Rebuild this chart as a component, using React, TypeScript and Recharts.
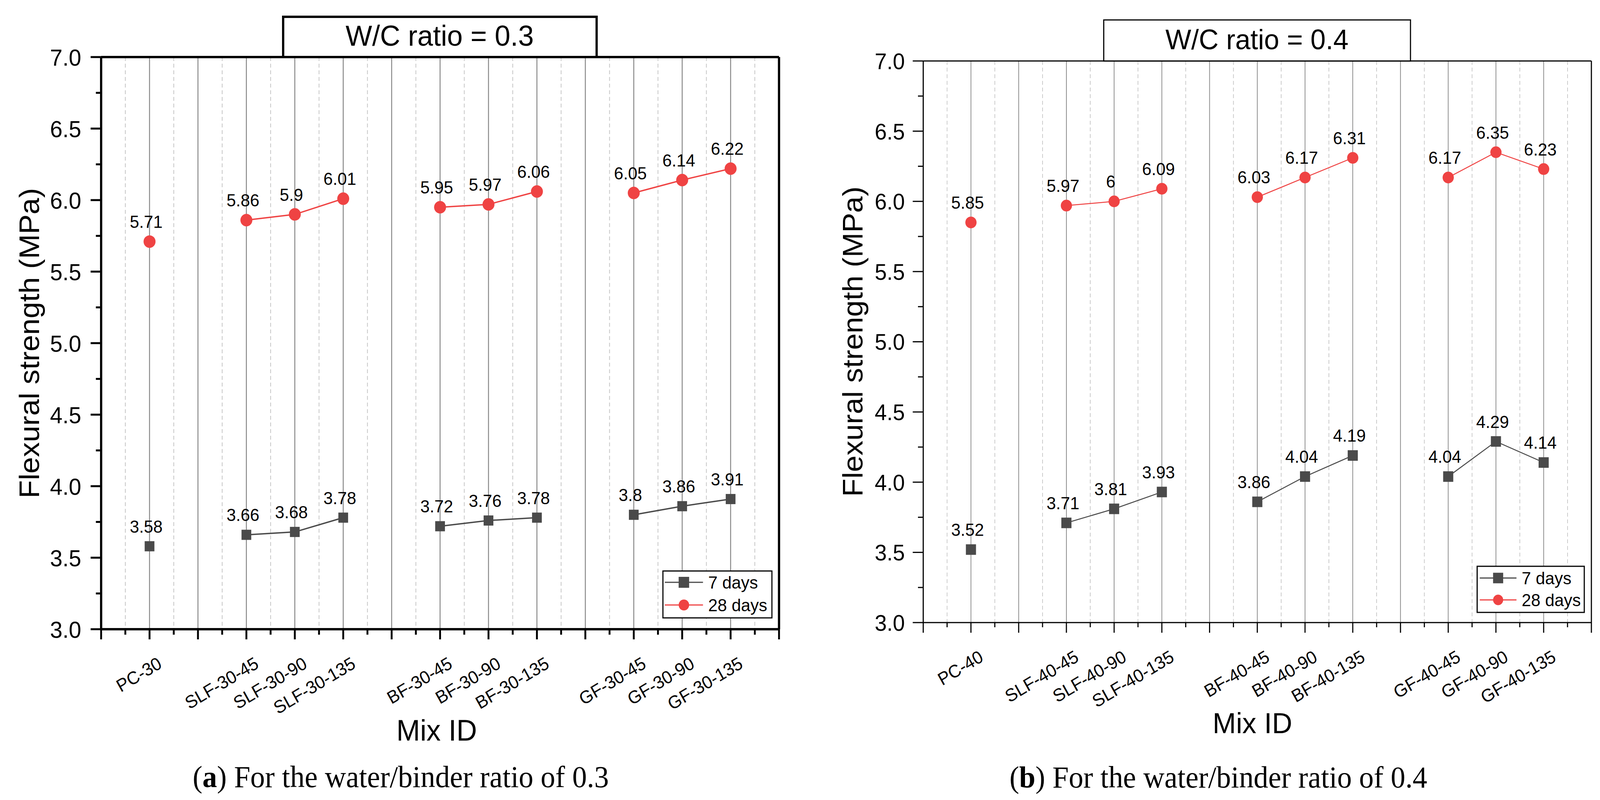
import React from "react";
import { LineChart, Line, XAxis, YAxis, CartesianGrid, LabelList, ReferenceLine } from "recharts";

// mix IDs, blank entries are the empty slots between groups
const categoriesA = ["PC-30", "", "SLF-30-45", "SLF-30-90", "SLF-30-135", "", "BF-30-45", "BF-30-90", "BF-30-135", "", "GF-30-45", "GF-30-90", "GF-30-135"];
const days7A = [3.58, null, 3.66, 3.68, 3.78, null, 3.72, 3.76, 3.78, null, 3.8, 3.86, 3.91];
const days28A = [5.71, null, 5.86, 5.9, 6.01, null, 5.95, 5.97, 6.06, null, 6.05, 6.14, 6.22];

const categoriesB = ["PC-40", "", "SLF-40-45", "SLF-40-90", "SLF-40-135", "", "BF-40-45", "BF-40-90", "BF-40-135", "", "GF-40-45", "GF-40-90", "GF-40-135"];
const days7B = [3.52, null, 3.71, 3.81, 3.93, null, 3.86, 4.04, 4.19, null, 4.04, 4.29, 4.14];
const days28B = [5.85, null, 5.97, 6, 6.09, null, 6.03, 6.17, 6.31, null, 6.17, 6.35, 6.23];

const yTicks = [3, 3.25, 3.5, 3.75, 4, 4.25, 4.5, 4.75, 5, 5.25, 5.5, 5.75, 6, 6.25, 6.5, 6.75, 7];
const xMax = categoriesA.length + 1;
const xTicks = Array.from({ length: xMax * 2 + 1 }, (_, i) => i / 2);

const W = 4272;
const H = 2047;
const FONT = "'Liberation Sans', Arial, sans-serif";
const SERIF = "'Liberation Serif', 'Times New Roman', serif";
const GRAY = "#4a4a4a";
const RED = "#ef4343";

const panelA = {
    left: 0, yAxisW: 270, right: 56, top: 146, xAxisH: 200, bottom: 237,
    axisW: 6, tickW: 5, majorLen: 28, minorLen: 14, xMajorLen: 26, xMinorLen: 14,
    gridW: 2.6, dashW: 2, lineW: 3.5, sq: 26, r: 16,
    yFont: 60, yGap: 53, catFont: 46, valFont: 45,
};
const panelB = {
    left: 2136, yAxisW: 329, right: 23, top: 156, xAxisH: 200, bottom: 254,
    axisW: 3, tickW: 3, majorLen: 28, minorLen: 14, xMajorLen: 26, xMinorLen: 12,
    gridW: 2, dashW: 1.8, lineW: 2.5, sq: 27, r: 15,
    yFont: 58, yGap: 49, catFont: 46, valFont: 45,
};

function YTick(props: any) {
    const { x, y, payload, panel } = props;
    const v = payload.value;
    const major = Math.abs(v * 2 - Math.round(v * 2)) < 1e-6;
    const len = major ? panel.majorLen : panel.minorLen;
    return (
        <g>
            <line x1={x - len} x2={x} y1={y} y2={y} stroke="#000" strokeWidth={panel.tickW} />
            {major && (
                <text x={x - panel.yGap} y={y} dy="0.36em" textAnchor="end" fontSize={panel.yFont} fontFamily={FONT} fill="#000">
                    {v.toFixed(1)}
                </text>
            )}
        </g>
    );
}

function XTick(props: any) {
    const { x, y, payload, panel, categories } = props;
    const v = payload.value;
    const major = Number.isInteger(v);
    const len = major ? panel.xMajorLen : panel.xMinorLen;
    const name = major && v >= 1 ? categories[v - 1] : "";
    const tx = x + 36;
    const ty = y + 97;
    return (
        <g>
            <line x1={x} x2={x} y1={y} y2={y + len} stroke="#000" strokeWidth={panel.tickW} />
            {name && (
                <text x={tx} y={ty} textAnchor="end" transform={`rotate(-30, ${tx}, ${ty})`} fontSize={panel.catFont} fontFamily={FONT} fill="#000">
                    {name}
                </text>
            )}
        </g>
    );
}

const gridLine = (panel: any) => (p: any) => {
    if (p.index === 0 || p.index >= xMax * 2) return <g key={p.key} />;
    const major = p.index % 2 === 0;
    return (
        <line
            key={p.key}
            x1={p.x1}
            x2={p.x2}
            y1={p.y1}
            y2={p.y2}
            stroke={major ? "#8a8a8a" : "#c4c4c4"}
            strokeWidth={major ? panel.gridW : panel.dashW}
            strokeDasharray={major ? undefined : "10 7"}
        />
    );
};

const squareDot = (panel: any) => (p: any) => {
    const { cx, cy, index, value } = p;
    if (value == null || cy == null || Number.isNaN(cy)) return <g key={`s-${index}`} />;
    return <rect key={`s-${index}`} x={cx - panel.sq / 2} y={cy - panel.sq / 2} width={panel.sq} height={panel.sq} fill={GRAY} />;
};

const circleDot = (panel: any) => (p: any) => {
    const { cx, cy, index, value } = p;
    if (value == null || cy == null || Number.isNaN(cy)) return <g key={`c-${index}`} />;
    return <circle key={`c-${index}`} cx={cx} cy={cy} r={panel.r} fill={RED} />;
};

const valueLabel = (panel: any) => (p: any) => {
    const { value, index } = p;
    if (value === null || value === undefined) return null;
    const vb = p.viewBox || {};
    const x = p.x ?? vb.x;
    const y = p.y ?? vb.y;
    if (x == null || y == null) return null;
    return (
        <text key={`v-${index}`} x={x - 9} y={y - 35} textAnchor="middle" fontSize={panel.valFont} fontFamily={FONT} fill="#000">
            {value}
        </text>
    );
};

function Panel({ panel, categories, d7, d28 }: any) {
    const data = categories.map((c: string, i: number) => ({ x: i + 1, name: c, d7: d7[i], d28: d28[i] }));
    const axisLine = { stroke: "#000", strokeWidth: panel.axisW };
    return (
        <div style={{ position: "absolute", left: panel.left, top: 0 }}>
            <LineChart
                width={2136}
                height={H}
                data={data}
                margin={{ top: panel.top, right: panel.right, bottom: panel.bottom, left: 0 }}
            >
                <CartesianGrid horizontal={false} vertical={gridLine(panel)} />
                <XAxis
                    type="number"
                    dataKey="x"
                    domain={[0, xMax]}
                    ticks={xTicks}
                    interval={0}
                    allowDataOverflow
                    height={panel.xAxisH}
                    tickSize={0}
                    tickMargin={0}
                    tickLine={false}
                    axisLine={axisLine}
                    tick={<XTick panel={panel} categories={categories} />}
                />
                <YAxis
                    type="number"
                    domain={[3, 7]}
                    ticks={yTicks}
                    interval={0}
                    allowDataOverflow
                    width={panel.yAxisW}
                    tickSize={0}
                    tickMargin={0}
                    tickLine={false}
                    axisLine={axisLine}
                    tick={<YTick panel={panel} />}
                />
                <ReferenceLine y={7} stroke="#000" strokeWidth={panel.axisW} />
                <ReferenceLine x={xMax} stroke="#000" strokeWidth={panel.axisW} />
                <Line
                    type="linear"
                    dataKey="d7"
                    name="7 days"
                    stroke={GRAY}
                    strokeWidth={panel.lineW}
                    dot={squareDot(panel)}
                    activeDot={false}
                    connectNulls={false}
                    isAnimationActive={false}
                >
                    <LabelList dataKey="d7" content={valueLabel(panel)} />
                </Line>
                <Line
                    type="linear"
                    dataKey="d28"
                    name="28 days"
                    stroke={RED}
                    strokeWidth={panel.lineW}
                    dot={circleDot(panel)}
                    activeDot={false}
                    connectNulls={false}
                    isAnimationActive={false}
                >
                    <LabelList dataKey="d28" content={valueLabel(panel)} />
                </Line>
            </LineChart>
        </div>
    );
}

function LegendBox({ x, y, w, h, row1, row2, lineX1, lineX2, textX, border, size }: any) {
    const mid = (lineX1 + lineX2) / 2;
    return (
        <g>
            <rect x={x} y={y} width={w} height={h} fill="#fff" stroke="#000" strokeWidth={border} />
            <line x1={lineX1} x2={lineX2} y1={row1} y2={row1} stroke={GRAY} strokeWidth={3} />
            <rect x={mid - size / 2} y={row1 - size / 2} width={size} height={size} fill={GRAY} />
            <text x={textX} y={row1 + 16} fontSize={45} fontFamily={FONT}>7 days</text>
            <line x1={lineX1} x2={lineX2} y1={row2} y2={row2} stroke={RED} strokeWidth={3} />
            <circle cx={mid} cy={row2} r={size / 2} fill={RED} />
            <text x={textX} y={row2 + 16} fontSize={45} fontFamily={FONT}>28 days</text>
        </g>
    );
}

function Overlay() {
    return (
        <svg width={W} height={H} style={{ position: "absolute", left: 0, top: 0 }}>
            {/* panel titles */}
            <rect x={756} y={43} width={837} height={103} fill="#fff" stroke="#000" strokeWidth={6} />
            <text x={1174} y={117} textAnchor="middle" fontSize={75} fontFamily={FONT}>W/C ratio = 0.3</text>
            <rect x={2947} y={51} width={819} height={105} fill="#fff" stroke="#000" strokeWidth={3} />
            <text x={3356} y={126} textAnchor="middle" fontSize={73} fontFamily={FONT}>W/C ratio = 0.4</text>

            {/* axis titles */}
            <text transform="translate(104, 878) rotate(-90)" textAnchor="middle" fontSize={76} fontFamily={FONT}>Flexural strength (MPa)</text>
            <text transform="translate(2303, 874) rotate(-90)" textAnchor="middle" fontSize={76} fontFamily={FONT}>Flexural strength (MPa)</text>
            <text x={1166} y={1895} textAnchor="middle" fontSize={76} fontFamily={FONT}>Mix ID</text>
            <text x={3344} y={1876} textAnchor="middle" fontSize={75} fontFamily={FONT}>Mix ID</text>

            <LegendBox x={1770} y={1461} w={291} h={120} row1={1490} row2={1548} lineX1={1775} lineX2={1877} textX={1891} border={3} size={28} />
            <LegendBox x={3944} y={1449} w={286} h={118} row1={1479} row2={1535} lineX1={3951} lineX2={4049} textX={4063} border={3} size={27} />

            {/* captions */}
            <text x={1070} y={2014} textAnchor="middle" fontSize={78} fontFamily={SERIF}>
                (<tspan fontWeight="bold">a</tspan>) For the water/binder ratio of 0.3
            </text>
            <text x={3253} y={2015} textAnchor="middle" fontSize={78} fontFamily={SERIF}>
                (<tspan fontWeight="bold">b</tspan>) For the water/binder ratio of 0.4
            </text>
        </svg>
    );
}

export default function App() {
    // fit the 4272x2047 figure into whatever viewport we actually get
    const [fit, setFit] = React.useState({ sx: 1, sy: 1 });
    React.useLayoutEffect(() => {
        const vw = document.documentElement.clientWidth || window.innerWidth;
        const vh = document.documentElement.clientHeight || window.innerHeight;
        setFit({ sx: Math.min(1, vw / W), sy: Math.min(1, vh / H) });
    }, []);
    return (
        <div
            style={{
                position: "absolute",
                left: 0,
                top: 0,
                width: W,
                height: H,
                background: "#fff",
                overflow: "hidden",
                transformOrigin: "0 0",
                transform: `scale(${fit.sx}, ${fit.sy})`,
            }}
        >
            <Panel panel={panelA} categories={categoriesA} d7={days7A} d28={days28A} />
            <Panel panel={panelB} categories={categoriesB} d7={days7B} d28={days28B} />
            <Overlay />
        </div>
    );
}
